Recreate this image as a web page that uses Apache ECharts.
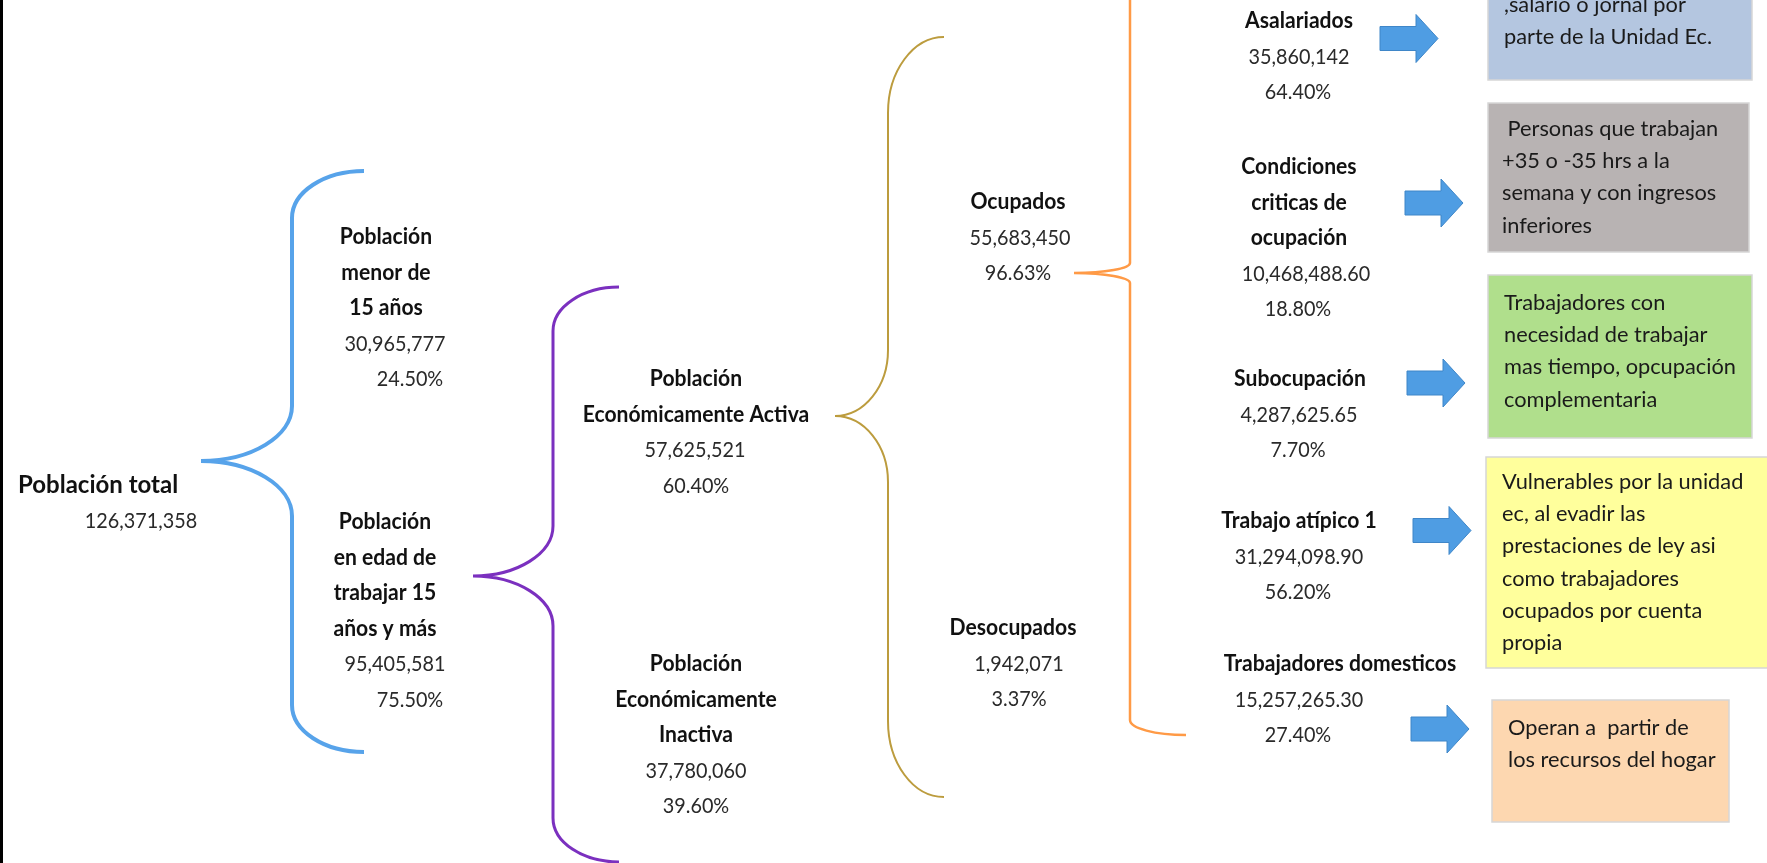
<!DOCTYPE html>
<html>
<head>
<meta charset="utf-8">
<script src="https://cdn.jsdelivr.net/npm/echarts@6/dist/echarts.min.js"></script>
<style>
  html, body { margin: 0; padding: 0; background: #fff; }
  #main { width: 1767px; height: 863px; }
</style>
</head>
<body>
<div id="main"></div>
<script>
// etiquetas de cada nivel del esquema
var nodeLabels = [
  ['Población total'],
  ['Población', 'menor de', '15 años'],
  ['Población', 'en edad de', 'trabajar 15', 'años y más'],
  ['Población', 'Económicamente Activa'],
  ['Población', 'Económicamente', 'Inactiva'],
  ['Ocupados'],
  ['Desocupados'],
  ['Asalariados'],
  ['Condiciones', 'criticas de', 'ocupación'],
  ['Subocupación'],
  ['Trabajo atípico 1'],
  ['Trabajadores domesticos']
]
var nodeValues = [126371358, 30965777, 95405581, 57625521, 37780060, 55683450, 1942071,
  35860142, 10468488.60, 4287625.65, 31294098.90, 15257265.30]
var nodePercents = [null, 24.50, 75.50, 60.40, 39.60, 96.63, 3.37, 64.40, 18.80, 7.70, 56.20, 27.40]

// textos de los recuadros de la derecha
var boxTexts = [
  [',salario o jornal por', 'parte de la Unidad Ec.'],
  [' Personas que trabajan', '+35 o -35 hrs a la', 'semana y con ingresos', 'inferiores'],
  ['Trabajadores con', 'necesidad de trabajar', 'mas tiempo, opcupación', 'complementaria'],
  ['Vulnerables por la unidad', 'ec, al evadir las', 'prestaciones de ley asi', 'como trabajadores', 'ocupados por cuenta', 'propia'],
  ['Operan a  partir de', 'los recursos del hogar']
]

// posiciones (en pixeles del lienzo): [xEtiqueta, xValor, xPorcentaje, yPrimeraLinea]
var nodePos = [
  [18, 141, 141, 485],
  [386, 395, 410, 237],
  [385, 395, 410, 522],
  [696, 695, 696, 379],
  [696, 696, 696, 664],
  [1018, 1020, 1018, 202],
  [1013, 1019, 1019, 628],
  [1299, 1299, 1298, 21],
  [1299, 1306, 1298, 167],
  [1300, 1299, 1298, 379],
  [1299, 1299, 1298, 521],
  [1340, 1299, 1298, 664]
]
var lineStep = 35.6

// llaves: [xPunta, xCentro, xExtremo, yArriba, yPunta, yAbajo, ryExtremo, ryPunta]
var bracePos = [
  [201, 292, 364, 171, 461, 752, 47, 55],
  [473, 553, 619, 287, 576, 862, 44, 50],
  [835, 888, 944, 37, 416, 797, 76, 66],
  [1074, 1130, 1186, -40, 273, 735, 15, 10]
]
var braceColors = ['#57a3ea', '#7b30bf', '#bc9c3e', '#ff9a46']
var braceWidths = [4, 3, 2, 2.5]

// flechas: [xInicio, yCentro]
var arrowPos = [[1380, 38.5], [1405, 203], [1407, 383], [1413, 530.5], [1411, 729]]

// recuadros: [x0, y0, x1, y1, xTexto, yPrimeraLinea]
var boxPos = [
  [1488, -10, 1752, 80, 1504, 5],
  [1488, 103, 1749, 252, 1502, 129],
  [1488, 275, 1752, 438, 1504, 303],
  [1486, 457, 1790, 668, 1502, 482],
  [1492, 700, 1729, 822, 1508, 728]
]
var boxColors = ['#b4c6e0', '#b8b3b3', '#b0df8c', '#ffff9c', '#fdd7b0']
var boxStep = 32.2

var FONT = 'Lato'

function fmt(v) {
  if (Number.isInteger(v)) return v.toLocaleString('en-US')
  return v.toLocaleString('en-US', { minimumFractionDigits: 2, maximumFractionDigits: 2 })
}

function quarterH(p0, p1) {
  // empieza horizontal, termina vertical
  var k = 0.5523
  return ' C' + (p0[0] + k * (p1[0] - p0[0])) + ',' + p0[1] + ' ' +
    p1[0] + ',' + (p1[1] - k * (p1[1] - p0[1])) + ' ' + p1[0] + ',' + p1[1]
}
function quarterV(p0, p1) {
  // empieza vertical, termina horizontal
  var k = 0.5523
  return ' C' + p0[0] + ',' + (p0[1] + k * (p1[1] - p0[1])) + ' ' +
    (p1[0] - k * (p1[0] - p0[0])) + ',' + p1[1] + ' ' + p1[0] + ',' + p1[1]
}

var myChart = echarts.init(document.getElementById('main'))

myChart.setOption({
  animation: false,
  grid: { left: 0, right: 0, top: 0, bottom: 0 },
  xAxis: { type: 'value', min: 0, max: 1767, show: false },
  yAxis: { type: 'value', min: 0, max: 863, inverse: true, show: false },
  graphic: [{ type: 'rect', shape: { x: 0, y: 0, width: 3, height: 863 }, style: { fill: '#000' } }],
  series: [
    {
      // llaves
      type: 'custom',
      data: bracePos.map(function (b, i) { return [i] }),
      renderItem: function (params, api) {
        var i = api.value(0)
        var b = bracePos[i]
        var c = function (x, y) { return api.coord([x, y]) }
        var top = c(b[2], b[3])
        var a1 = c(b[1], b[3] + b[6])
        var a2 = c(b[1], b[4] - b[7])
        var tip = c(b[0], b[4])
        var a3 = c(b[1], b[4] + b[7])
        var a4 = c(b[1], b[5] - b[6])
        var bot = c(b[2], b[5])
        var d = 'M' + top[0] + ',' + top[1] + quarterH(top, a1) +
          ' L' + a2[0] + ',' + a2[1] + quarterV(a2, tip) + quarterH(tip, a3) +
          ' L' + a4[0] + ',' + a4[1] + quarterV(a4, bot)
        return {
          type: 'path',
          shape: { pathData: d },
          style: { fill: null, stroke: braceColors[i], lineWidth: braceWidths[i] }
        }
      }
    },
    {
      // flechas
      type: 'custom',
      data: arrowPos.map(function (a, i) { return [i] }),
      renderItem: function (params, api) {
        var a = arrowPos[api.value(0)]
        var pts = [[0, -12], [36, -12], [36, -24], [58, 0], [36, 24], [36, 12], [0, 12]].map(function (p) {
          return api.coord([a[0] + p[0], a[1] + p[1]])
        })
        return {
          type: 'polygon',
          shape: { points: pts },
          style: { fill: '#4f9de3', stroke: '#3f86c8', lineWidth: 1 }
        }
      }
    },
    {
      // recuadros con texto
      type: 'custom',
      data: boxTexts.map(function (t, i) { return [i] }),
      renderItem: function (params, api) {
        var i = api.value(0)
        var b = boxPos[i]
        var p0 = api.coord([b[0], b[1]])
        var p1 = api.coord([b[2], b[3]])
        var children = [{
          type: 'rect',
          shape: { x: p0[0], y: p0[1], width: p1[0] - p0[0], height: p1[1] - p0[1] },
          style: { fill: boxColors[i], stroke: '#d6d6d6', lineWidth: 1.5 }
        }]
        boxTexts[i].forEach(function (line, j) {
          var p = api.coord([b[4], b[5] + j * boxStep])
          children.push({
            type: 'text', x: p[0], y: p[1], scaleX: 0.99,
            style: { text: line, fontFamily: FONT, fontSize: 22, fill: '#1a1a1a', align: 'left', verticalAlign: 'middle' }
          })
        })
        return { type: 'group', children: children }
      }
    },
    {
      // etiquetas, valores y porcentajes
      type: 'custom',
      data: nodeValues.map(function (v, i) { return [i, v] }),
      renderItem: function (params, api) {
        var i = api.value(0)
        var pos = nodePos[i]
        var lines = nodeLabels[i]
        var children = []
        var isRoot = i === 0
        lines.forEach(function (line, j) {
          var p = api.coord([pos[0], pos[3] + j * lineStep])
          children.push({
            type: 'text', x: p[0], y: p[1], scaleX: isRoot ? 1.0 : 0.96,
            style: {
              text: line, fontFamily: FONT, fontWeight: 'bold', fontSize: isRoot ? 24 : 22,
              fill: '#111', align: isRoot ? 'left' : 'center', verticalAlign: 'middle'
            }
          })
        })
        var k = lines.length
        var pv = api.coord([pos[1], pos[3] + k * lineStep])
        children.push({
          type: 'text', x: pv[0], y: pv[1], scaleX: 0.9,
          style: { text: fmt(nodeValues[i]), fontFamily: FONT, fontSize: 22, fill: '#2a2a2a', align: 'center', verticalAlign: 'middle' }
        })
        if (nodePercents[i] != null) {
          var pp = api.coord([pos[2], pos[3] + (k + 1) * lineStep])
          children.push({
            type: 'text', x: pp[0], y: pp[1], scaleX: 0.9,
            style: { text: nodePercents[i].toFixed(2) + '%', fontFamily: FONT, fontSize: 22, fill: '#2a2a2a', align: 'center', verticalAlign: 'middle' }
          })
        }
        return { type: 'group', children: children }
      }
    }
  ]
})
</script>
</body>
</html>
